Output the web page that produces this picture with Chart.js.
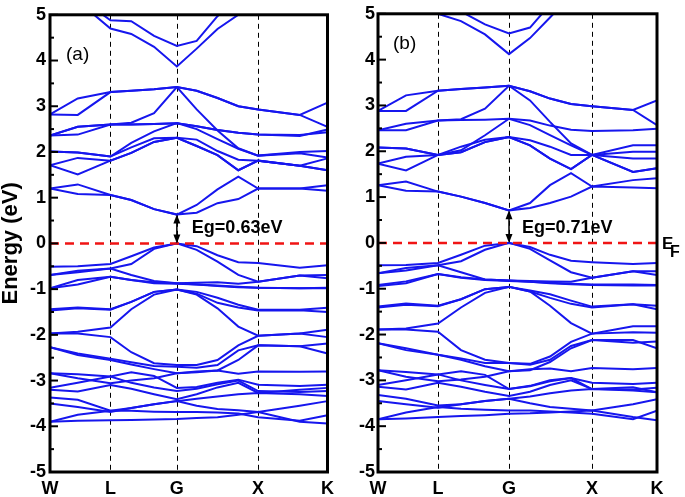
<!DOCTYPE html>
<html>
<head>
<meta charset="utf-8">
<script src="https://cdn.jsdelivr.net/npm/chart.js@4.4.1/dist/chart.umd.min.js"></script>
<style>
  body { margin: 0; background: #fff; }
  #wrap { position: relative; width: 685px; height: 497px; }
  canvas { position: absolute; top: 0; }
  #chartA { left: 0; }
  #chartB { left: 340px; }
</style>
</head>
<body>
<div id="wrap">
  <canvas id="chartA" width="340" height="497"></canvas>
  <canvas id="chartB" width="345" height="497"></canvas>
</div>
<script>
// k-path sample points (W .. L .. G .. X .. K), one list per panel
const kPathA = [0, 28, 61, 82, 105, 128, 148, 169, 190, 210, 252, 280];
const kPathB = [0, 28, 60, 83, 107, 131, 152, 172, 193, 214, 255, 279];
const kTicksA = [0, 61, 128, 210, 280];
const kTicksB = [0, 60, 131, 214, 279];
const kLabels = ["W", "L", "G", "X", "K"];

const gapA = 0.63;
const gapB = 0.71;

// energies (eV) of each band at the k points above, panel (a)
const bandsA = [
  [5.8, 5.3, 4.70, 4.58, 4.30, 3.87, 4.26, 4.69, 5.0, 5.5, 5.8, 5.9],
  [6.0, 5.4, 4.88, 4.86, 4.54, 4.32, 4.43, 4.97, 5.4, 5.8, 6.0, 6.0],
  [2.82, 3.17, 3.31, 3.34, 3.37, 3.42, 3.34, 3.18, 3.00, 2.93, 2.81, 3.08],
  [2.82, 2.81, 3.31, 3.34, 3.37, 3.42, 2.93, 2.47, 2.08, 1.92, 1.97, 1.88],
  [2.36, 2.38, 2.60, 2.60, 2.61, 2.63, 2.56, 2.48, 2.42, 2.38, 2.35, 2.49],
  [2.36, 2.55, 2.60, 2.64, 2.85, 3.42, 3.34, 3.18, 3.00, 2.93, 2.81, 2.55],
  [2.36, 2.55, 2.60, 2.60, 2.61, 2.63, 2.56, 2.48, 2.42, 2.38, 2.37, 2.43],
  [2.01, 1.99, 1.90, 2.20, 2.45, 2.63, 2.50, 2.28, 2.07, 1.92, 2.00, 2.02],
  [2.01, 1.99, 1.90, 2.10, 2.30, 2.31, 2.27, 2.02, 1.83, 1.81, 1.70, 1.86],
  [1.71, 1.87, 1.81, 1.98, 2.22, 2.31, 2.13, 1.93, 1.60, 1.81, 1.70, 1.60],
  [1.71, 1.51, 1.81, 1.98, 2.22, 2.31, 2.13, 1.93, 1.60, 1.81, 1.70, 1.60],
  [1.20, 1.29, 1.06, 0.95, 0.75, 0.63, 0.84, 1.18, 1.46, 1.20, 1.20, 1.27],
  [1.20, 1.08, 1.06, 0.95, 0.75, 0.63, 0.67, 0.88, 0.97, 1.20, 1.20, 1.15],
  [-0.51, -0.50, -0.45, -0.28, -0.09, 0.0, -0.06, -0.26, -0.41, -0.43, -0.53, -0.48],
  [-0.69, -0.60, -0.55, -0.45, -0.12, 0.0, -0.14, -0.40, -0.69, -0.84, -0.70, -0.69],
  [-0.69, -0.63, -0.55, -0.69, -0.82, -0.87, -0.86, -0.85, -0.88, -0.84, -0.70, -0.76],
  [-0.98, -0.80, -0.73, -0.80, -0.85, -0.87, -0.90, -0.93, -0.96, -0.97, -0.98, -0.97],
  [-0.98, -0.90, -0.73, -0.80, -0.87, -0.88, -0.90, -0.92, -0.95, -0.97, -0.98, -0.98],
  [-1.44, -1.40, -1.44, -1.28, -1.06, -1.01, -1.06, -1.19, -1.34, -1.45, -1.45, -1.41],
  [-1.47, -1.42, -1.45, -1.28, -1.06, -1.01, -1.10, -1.30, -1.40, -1.47, -1.46, -1.50],
  [-1.97, -1.93, -1.84, -1.44, -1.12, -1.01, -1.12, -1.42, -1.82, -2.02, -1.97, -2.05],
  [-1.97, -1.97, -2.05, -2.38, -2.62, -2.66, -2.66, -2.55, -2.23, -2.02, -1.97, -1.89],
  [-2.27, -2.41, -2.52, -2.60, -2.68, -2.70, -2.72, -2.66, -2.34, -2.23, -2.25, -2.19],
  [-2.27, -2.44, -2.55, -2.65, -2.75, -2.84, -2.82, -2.78, -2.55, -2.23, -2.25, -2.41],
  [-2.84, -2.86, -2.91, -2.82, -2.90, -3.16, -3.14, -3.05, -2.98, -3.09, -3.12, -3.09],
  [-2.84, -2.95, -3.06, -3.00, -2.95, -2.84, -2.80, -2.78, -2.85, -2.80, -2.81, -2.80],
  [-3.16, -3.05, -2.91, -3.05, -3.15, -3.23, -3.18, -3.08, -3.00, -3.23, -3.25, -3.23],
  [-3.20, -3.24, -3.10, -3.18, -3.30, -3.41, -3.30, -3.15, -3.05, -3.27, -3.20, -3.16],
  [-3.37, -3.42, -3.66, -3.60, -3.52, -3.45, -3.55, -3.62, -3.65, -3.69, -3.55, -3.45],
  [-3.50, -3.58, -3.69, -3.60, -3.52, -3.45, -3.40, -3.35, -3.30, -3.27, -3.30, -3.34],
  [-3.90, -3.75, -3.66, -3.66, -3.68, -3.69, -3.69, -3.70, -3.72, -3.80, -3.88, -3.76],
  [-3.90, -3.88, -3.87, -3.86, -3.85, -3.84, -3.82, -3.80, -3.75, -3.69, -3.90, -3.94]
];

// panel (b)
const bandsB = [
  [5.8, 5.5, 5.0, 4.84, 4.55, 4.12, 4.47, 4.92, 5.4, 5.8, 6.0, 6.0],
  [6.0, 5.8, 5.3, 5.05, 4.77, 4.57, 4.70, 5.2, 5.6, 6.0, 6.0, 6.0],
  [2.88, 3.22, 3.32, 3.36, 3.39, 3.43, 3.31, 3.15, 3.03, 2.98, 2.90, 3.11],
  [2.88, 2.88, 3.32, 3.36, 3.39, 3.43, 3.11, 2.64, 2.17, 1.92, 2.13, 2.13],
  [2.46, 2.46, 2.67, 2.68, 2.69, 2.71, 2.67, 2.56, 2.47, 2.44, 2.46, 2.49],
  [2.46, 2.60, 2.67, 2.70, 2.93, 3.43, 3.31, 3.15, 3.03, 2.98, 2.90, 2.57],
  [2.08, 2.06, 1.92, 2.02, 2.35, 2.71, 2.57, 2.35, 2.13, 1.92, 1.99, 1.99],
  [2.08, 2.06, 1.92, 2.10, 2.25, 2.31, 2.24, 2.10, 1.92, 1.92, 1.84, 1.84],
  [1.73, 1.88, 1.92, 1.98, 2.20, 2.31, 2.13, 1.84, 1.61, 1.92, 1.55, 1.63],
  [1.73, 1.58, 1.92, 1.98, 2.20, 2.31, 2.13, 1.84, 1.61, 1.92, 1.55, 1.63],
  [1.26, 1.34, 1.12, 1.01, 0.87, 0.71, 0.87, 1.26, 1.52, 1.23, 1.37, 1.41],
  [1.26, 1.14, 1.12, 1.01, 0.87, 0.71, 0.76, 0.87, 1.01, 1.23, 1.21, 1.19],
  [-0.49, -0.48, -0.44, -0.26, -0.06, 0.0, -0.09, -0.26, -0.39, -0.42, -0.46, -0.44],
  [-0.66, -0.55, -0.49, -0.40, -0.15, 0.0, -0.13, -0.38, -0.64, -0.76, -0.62, -0.62],
  [-0.66, -0.60, -0.49, -0.64, -0.80, -0.82, -0.83, -0.84, -0.85, -0.76, -0.62, -0.70],
  [-0.92, -0.84, -0.68, -0.75, -0.80, -0.82, -0.85, -0.87, -0.89, -0.91, -0.91, -0.92],
  [-0.94, -0.88, -0.68, -0.76, -0.81, -0.83, -0.85, -0.88, -0.90, -0.92, -0.93, -0.93],
  [-1.39, -1.32, -1.37, -1.23, -1.01, -0.96, -1.04, -1.12, -1.26, -1.39, -1.34, -1.37],
  [-1.41, -1.35, -1.38, -1.23, -1.01, -0.96, -1.06, -1.20, -1.33, -1.41, -1.34, -1.45],
  [-1.89, -1.87, -1.76, -1.41, -1.09, -0.96, -1.06, -1.37, -1.75, -1.98, -1.82, -1.82],
  [-1.89, -1.89, -1.94, -2.34, -2.55, -2.62, -2.64, -2.48, -2.16, -1.98, -1.95, -1.96],
  [-2.19, -2.34, -2.44, -2.55, -2.69, -2.80, -2.78, -2.60, -2.30, -2.12, -2.12, -2.30],
  [-2.19, -2.30, -2.44, -2.52, -2.62, -2.62, -2.66, -2.55, -2.25, -2.12, -2.18, -2.15],
  [-2.78, -2.82, -2.87, -2.80, -2.88, -3.19, -3.12, -3.00, -2.95, -3.05, -3.08, -3.05],
  [-2.78, -2.92, -3.02, -2.98, -2.92, -2.80, -2.76, -2.74, -2.80, -2.73, -2.76, -2.73],
  [-3.10, -3.00, -2.87, -3.00, -3.10, -3.19, -3.13, -3.02, -2.95, -3.19, -3.20, -3.16],
  [-3.14, -3.20, -3.05, -3.14, -3.25, -3.34, -3.25, -3.10, -3.00, -3.19, -3.15, -3.26],
  [-3.32, -3.40, -3.55, -3.52, -3.45, -3.40, -3.50, -3.58, -3.62, -3.66, -3.52, -3.41],
  [-3.45, -3.52, -3.60, -3.52, -3.45, -3.40, -3.35, -3.28, -3.22, -3.19, -3.22, -3.26],
  [-3.85, -3.70, -3.58, -3.62, -3.64, -3.66, -3.66, -3.68, -3.70, -3.73, -3.85, -3.66],
  [-3.85, -3.83, -3.80, -3.78, -3.76, -3.73, -3.72, -3.70, -3.68, -3.66, -3.80, -3.87]
];

const BLUE = "rgb(22,22,238)";
const FONT = "'Liberation Sans', Arial, sans-serif";

// dashed guides, frame, inner ticks, gap arrow and labels
const decor = {
  id: "decor",
  beforeDatasetsDraw(chart, args, o) {
    const { ctx, chartArea: { top, bottom }, scales: { x } } = chart;
    ctx.save();
    ctx.strokeStyle = "#000";
    ctx.lineWidth = 1;
    ctx.setLineDash([5, 4]);
    o.guides.forEach(v => {
      const px = Math.round(x.getPixelForValue(v)) + 0.5;
      ctx.beginPath();
      ctx.moveTo(px, top);
      ctx.lineTo(px, bottom);
      ctx.stroke();
    });
    ctx.restore();
  },
  afterDatasetsDraw(chart, args, o) {
    const { ctx, chartArea: { left, right, top, bottom }, scales: { x, y } } = chart;
    ctx.save();

    // Fermi level
    const y0 = y.getPixelForValue(0);
    ctx.strokeStyle = "rgb(240,20,20)";
    ctx.lineWidth = 2.5;
    ctx.setLineDash([9, 6]);
    ctx.beginPath();
    ctx.moveTo(left, y0);
    ctx.lineTo(right, y0);
    ctx.stroke();
    ctx.setLineDash([]);

    // gap arrow at G
    const gx = x.getPixelForValue(o.gPos);
    const yg = y.getPixelForValue(o.gap);
    ctx.strokeStyle = "#000";
    ctx.fillStyle = "#000";
    ctx.lineWidth = 1.5;
    ctx.beginPath();
    ctx.moveTo(gx, yg + 7);
    ctx.lineTo(gx, y0 - 7);
    ctx.stroke();
    ctx.beginPath();
    ctx.moveTo(gx, yg); ctx.lineTo(gx - 3.5, yg + 9); ctx.lineTo(gx + 3.5, yg + 9);
    ctx.closePath(); ctx.fill();
    ctx.beginPath();
    ctx.moveTo(gx, y0); ctx.lineTo(gx - 3.5, y0 - 9); ctx.lineTo(gx + 3.5, y0 - 9);
    ctx.closePath(); ctx.fill();

    ctx.font = "bold 18px " + FONT;
    ctx.textBaseline = "middle";
    ctx.textAlign = "left";
    ctx.fillText("Eg=" + o.gap.toFixed(2) + "eV", gx + o.egDx, y0 - 15);

    // frame
    ctx.lineWidth = 3;
    ctx.strokeRect(left, top, right - left, bottom - top);

    // inward ticks on the left side
    ctx.lineWidth = 2;
    for (let v = -5; v <= 5; v += 0.5) {
      const py = y.getPixelForValue(v);
      const len = Number.isInteger(v) ? 8 : 4;
      ctx.beginPath();
      ctx.moveTo(left, py);
      ctx.lineTo(left + len, py);
      ctx.stroke();
    }

    // panel label
    ctx.font = "19px " + FONT;
    ctx.textBaseline = "middle";
    ctx.fillText(o.label, o.labelX, o.labelY);

    if (o.ef) {
      ctx.font = "bold 17px " + FONT;
      ctx.textBaseline = "alphabetic";
      ctx.fillText("E", right + 5, y0 + 6);
      ctx.font = "bold 16px " + FONT;
      ctx.fillText("F", right + 13, y0 + 14);
    }
    ctx.restore();
  }
};

function makeChart(id, kPath, kTicks, bands, gap, cfg) {
  const datasets = bands.map(b => ({
    data: b.map((e, i) => ({ x: kPath[i], y: e })),
    showLine: true,
    borderColor: BLUE,
    borderWidth: 2,
    pointRadius: 0,
    tension: 0
  }));

  return new Chart(document.getElementById(id), {
    type: "scatter",
    data: { datasets },
    plugins: [decor],
    options: {
      responsive: false,
      animation: false,
      layout: { padding: { left: 0, right: cfg.padRight, top: 9, bottom: 0 } },
      plugins: {
        legend: { display: false },
        tooltip: { enabled: false },
        decor: {
          guides: kTicks.slice(1, 4),
          gPos: kTicks[2],
          gap: gap,
          egDx: cfg.egDx,
          label: cfg.label,
          labelX: cfg.labelX,
          labelY: cfg.labelY,
          ef: cfg.ef
        }
      },
      scales: {
        x: {
          type: "linear",
          min: kTicks[0],
          max: kTicks[kTicks.length - 1],
          grid: { display: false, drawTicks: false },
          border: { display: false },
          afterBuildTicks: s => { s.ticks = kTicks.map(v => ({ value: v })); },
          afterFit: s => { s.height = 25; },
          ticks: {
            autoSkip: false,
            maxRotation: 0,
            padding: 6,
            color: "#000",
            font: { family: FONT, size: 18, weight: "bold" },
            callback: v => kLabels[kTicks.indexOf(v)]
          }
        },
        y: {
          min: -5,
          max: 5,
          grid: { display: false, drawTicks: false },
          border: { display: false },
          afterFit: s => { s.width = cfg.yWidth; },
          ticks: {
            stepSize: 1,
            padding: cfg.tickPad,
            color: "#000",
            font: { family: FONT, size: 18, weight: "bold" }
          },
          title: {
            display: cfg.yTitle,
            text: "Energy (eV)",
            color: "#000",
            padding: { top: 0, bottom: 0 },
            font: { family: FONT, size: 22, weight: "bold", lineHeight: 1 }
          }
        }
      }
    }
  });
}

makeChart("chartA", kPathA, kTicksA, bandsA, gapA, {
  padRight: 10, yWidth: 50, tickPad: 4, yTitle: true,
  egDx: 15, label: "(a)", labelX: 66, labelY: 55, ef: false
});

makeChart("chartB", kPathB, kTicksB, bandsB, gapB, {
  padRight: 28, yWidth: 38, tickPad: 3, yTitle: false,
  egDx: 13, label: "(b)", labelX: 53, labelY: 44, ef: true
});
</script>
</body>
</html>
